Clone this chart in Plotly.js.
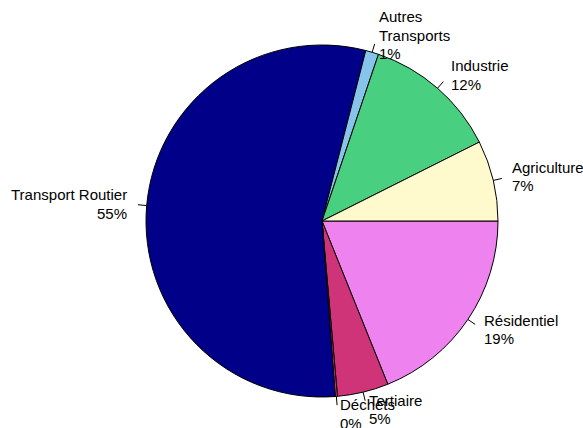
<!DOCTYPE html>
<html>
<head>
<meta charset="utf-8">
<script src="https://cdn.plot.ly/plotly-3.0.1.min.js"></script>
<style>html,body{margin:0;padding:0;background:#fff;}#chart{width:583px;height:428px;}</style>
</head>
<body>
<div id="chart"></div>
<script>
// Data (in drawing order, counterclockwise from 3 o'clock)
var categories = ["Agriculture", "Industrie", "Autres\nTransports", "Transport Routier", "Déchets", "Tertiaire", "Résidentiel"];
var values = [7.4, 12.4, 1.2, 55.2, 0.2, 4.7, 18.9];
var colors = ["#FFFACD", "#48CF80", "#87C4EC", "#000088", "#CF3478", "#CF3478", "#EE82EE"];

// Layout geometry
var W = 583, H = 428;
var CX = 322, CY = 221, R = 176;
var LINE = 18.5;

var total = values.reduce(function(a, b){ return a + b; }, 0);
var annotations = [], shapes = [];
var cum = 0;
for (var i = 0; i < values.length; i++) {
  var mid = (cum + values[i] / 2) / total * 2 * Math.PI;
  cum += values[i];
  var c = Math.cos(mid), s = Math.sin(mid);
  shapes.push({
    type: "line", xref: "paper", yref: "paper",
    x0: (CX + R * c) / W, y0: 1 - (CY - R * s) / H,
    x1: (CX + 1.05 * R * c) / W, y1: 1 - (CY - 1.05 * R * s) / H,
    line: {color: "#000", width: 1}
  });
  var pct = Math.round(values[i] / total * 100) + "%";
  var lines = categories[i].split("\n").concat([pct]);
  var px = CX + 1.1 * R * c, py = CY - 1.1 * R * s;
  for (var k = 0; k < lines.length; k++) {
    var ly = py + (k - (lines.length - 1) / 2) * LINE;
    annotations.push({
      xref: "paper", yref: "paper",
      x: px / W, y: 1 - ly / H,
      text: lines[k], showarrow: false,
      xanchor: c > 0 ? "left" : "right", yanchor: "middle",
      font: {family: "Liberation Sans, Arial, sans-serif", size: 15, color: "#000"}
    });
  }
}

// Plotly draws clockwise from the rotation angle; feed the slices in reverse
var rv = values.slice().reverse();
var rl = categories.slice().reverse();
var rc = colors.slice().reverse();

var trace = {
  type: "pie",
  labels: rl,
  values: rv,
  sort: false,
  direction: "clockwise",
  rotation: 90,
  textinfo: "none",
  hoverinfo: "none",
  showlegend: false,
  marker: {colors: rc, line: {color: "#000", width: 1}},
  domain: {x: [(CX - R) / W, (CX + R) / W], y: [1 - (CY + R) / H, 1 - (CY - R) / H]}
};

var layout = {
  width: W, height: H,
  margin: {l: 0, r: 0, t: 0, b: 0},
  paper_bgcolor: "#fff",
  showlegend: false,
  annotations: annotations,
  shapes: shapes
};

Plotly.newPlot("chart", [trace], layout, {displayModeBar: false, staticPlot: true});
</script>
</body>
</html>
